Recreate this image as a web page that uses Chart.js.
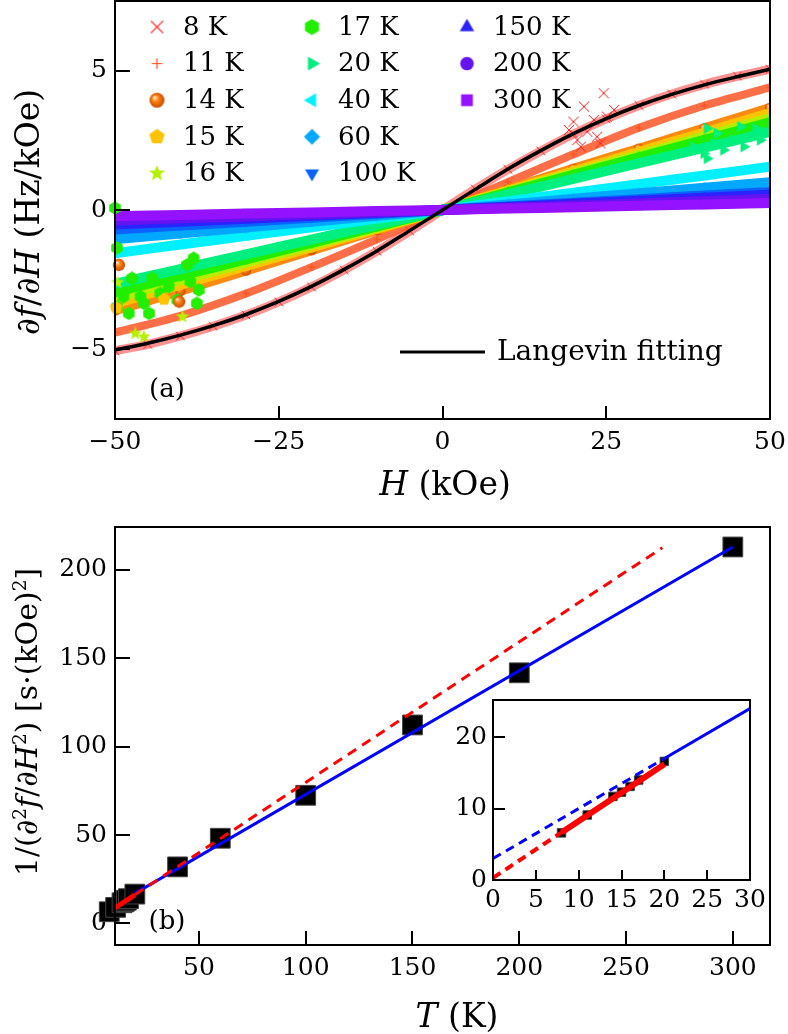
<!DOCTYPE html>
<html>
<head>
<meta charset="utf-8">
<script src="https://cdn.jsdelivr.net/npm/chart.js@4.4.1/dist/chart.umd.min.js"></script>
<style>
  body { margin: 0; background: #fff; }
  #page { position: relative; width: 788px; height: 1034px; font-family: "DejaVu Serif", serif; color: #000; }
  .box { position: absolute; }
  .lbl { position: absolute; white-space: nowrap; font-size: 33px; line-height: 1; }
  .lbl.small { font-size: 30px; }
  .tag { position: absolute; white-space: nowrap; font-size: 26px; line-height: 1; transform: translate(-50%, -50%); }
  .rot { transform: translate(-50%, -50%) rotate(-90deg); }
  .ctr { transform: translate(-50%, -50%); }
  sup { font-size: 0.62em; vertical-align: 0.6em; line-height: 0; }
</style>
</head>
<body>
<div id="page">
  <div class="box" style="left:0;top:0;width:788px;height:510px"><canvas id="chartA"></canvas></div>
  <div class="box" style="left:0;top:510px;width:788px;height:524px"><canvas id="chartB"></canvas></div>
  <div class="box" style="left:430px;top:690px;width:340px;height:230px"><canvas id="chartC"></canvas></div>

  <div class="lbl rot" style="left:27px;top:212px">∂<i>f</i>/∂<i>H</i> (Hz/kOe)</div>
  <div class="lbl ctr" style="left:445px;top:483px"><i>H</i>&nbsp;(kOe)</div>
  <div class="tag" style="left:167px;top:388px">(a)</div>

  <div class="lbl small rot" style="left:27px;top:722px">1/(∂<sup>2</sup><i>f</i>/∂<i>H</i><sup>2</sup>) [s·(kOe)<sup>2</sup>]</div>
  <div class="lbl ctr" style="left:457px;top:1015px"><i>T</i>&nbsp;(K)</div>
  <div class="tag" style="left:167px;top:920px">(b)</div>
</div>

<script>
// ---------- panel (a) data: df/dH (Hz/kOe) vs H (kOe) ----------
const fieldH = [-50, -40, -30, -20, -10, 0, 10, 20, 30, 40, 50];
const fieldH8 = [-50, -45, -40, -35, -30, -25, -20, -15, -10, -5, 0, 5, 10, 15, 20, 25, 30, 35, 40, 45, 50];

const df8K   = [-5.05, -4.82, -4.52, -4.17, -3.77, -3.30, -2.76, -2.15, -1.48, -0.76, 0, 0.75, 1.46, 2.12, 2.73, 3.27, 3.75, 4.16, 4.51, 4.80, 5.05];
const fitLangevin = [-5.02, -4.78, -4.49, -4.15, -3.75, -3.28, -2.74, -2.13, -1.47, -0.74, 0, 0.74, 1.47, 2.13, 2.74, 3.28, 3.75, 4.15, 4.49, 4.78, 5.05];

const df11K  = [-4.40, -3.80, -3.00, -2.05, -1.05, 0, 1.00, 2.00, 2.95, 3.75, 4.40];
const df14K  = [-3.60, -2.90, -2.17, -1.44, -0.72, 0, 0.74, 1.48, 2.20, 2.93, 3.66];
const df15K  = [-3.35, -2.68, -2.01, -1.34, -0.67, 0, 0.70, 1.39, 2.09, 2.78, 3.48];
const df16K  = [-3.15, -2.52, -1.89, -1.26, -0.63, 0, 0.66, 1.32, 1.98, 2.64, 3.30];
const df17K  = [-2.95, -2.36, -1.77, -1.18, -0.59, 0, 0.63, 1.26, 1.89, 2.52, 3.15];
const df20K  = [-2.65, -2.12, -1.59, -1.06, -0.53, 0, 0.56, 1.12, 1.68, 2.24, 2.80];
const df40K  = [-1.55, -1.24, -0.93, -0.62, -0.31, 0, 0.31, 0.62, 0.93, 1.24, 1.55];
const df60K  = [-1.05, -0.84, -0.63, -0.42, -0.21, 0, 0.20, 0.40, 0.60, 0.80, 1.00];
const df100K = [-0.70, -0.56, -0.42, -0.28, -0.14, 0, 0.13, 0.26, 0.39, 0.52, 0.65];
const df150K = [-0.52, -0.42, -0.31, -0.21, -0.10, 0, 0.11, 0.22, 0.33, 0.44, 0.55];
const df200K = [-0.38, -0.30, -0.23, -0.15, -0.08, 0, 0.08, 0.16, 0.24, 0.32, 0.40];
const df300K = [-0.22, -0.18, -0.13, -0.09, -0.04, 0, 0.05, 0.10, 0.15, 0.20, 0.25];

// scattered points off the bands, [H, df/dH]
const extra8K  = [[24.6, 4.19], [21.6, 3.71], [26.2, 3.59], [20.0, 3.17], [23.1, 3.23], [25.1, 3.35], [22.1, 2.81], [23.6, 2.63], [20.6, 2.51], [24.1, 2.39], [21.1, 2.27], [19.3, 2.87]];
const extra14K = [[-49.4, -1.97], [-40.2, -3.29]];
const extra15K = [[-49.8, -3.5], [-42.5, -3.2]];
const extra16K = [[-46.9, -4.43], [-45.6, -4.55], [-39.7, -3.83], [-49.6, -2.6]];
const extra17K = [[-38.0, -1.73], [-39.0, -1.97], [-47.4, -2.45], [-44.3, -2.45], [-41.8, -2.75], [-38.5, -2.57], [-37.2, -2.87], [-37.5, -3.35], [-44.8, -3.71], [-47.9, -3.71], [-48.7, -3.11], [-46.1, -3.11], [-43.1, -2.99], [-40.5, -3.23], [-45.6, -3.35], [-49.7, -3.47], [-50.0, 0.07], [-49.7, -1.36]];
const extra20K = [[38.3, 2.27], [39.9, 2.03], [40.4, 1.85], [41.4, 2.39], [42.9, 2.15], [44.5, 2.51], [46.0, 2.27], [47.5, 2.63], [48.5, 2.51], [45.5, 2.99], [41.9, 2.75], [40.4, 2.93], [47.8, 2.93], [49.3, 2.81]];

const ticksHA  = [-50, -37.5, -25, -12.5, 0, 12.5, 25, 37.5, 50];
const labelsHA = ['\u221250', null, '\u221225', null, '0', null, '25', null, '50'];
const ticksDA  = [-7.5, -5, -2.5, 0, 2.5, 5, 7.5];
const labelsDA = [null, '\u22125', null, '0', null, '5', null];

// ---------- panel (b) data: 1/(d2f/dH2) vs T ----------
const tempT  = [8, 11, 14, 15, 16, 17, 20, 40, 60, 100, 150, 200, 300];
const invCurv = [6.6, 9.1, 11.7, 12.3, 13.1, 14.0, 16.6, 32.0, 48.2, 72.5, 112.3, 141.8, 213.0];
const redFitT = [0, 8, 20, 267];
const redFitV = [0.3, 6.66, 16.2, 212.6];
const blueFitT = [0, 20, 300];
const blueFitV = [3.0, 17.0, 213.0];

const ticksTB  = [25, 50, 75, 100, 125, 150, 175, 200, 225, 250, 275, 300];
const labelsTB = [null, '50', null, '100', null, '150', null, '200', null, '250', null, '300'];
const ticksVB  = [0, 25, 50, 75, 100, 125, 150, 175, 200];
const labelsVB = ['0', null, '50', null, '100', null, '150', null, '200'];
const ticksTC  = [0, 2.5, 5, 7.5, 10, 12.5, 15, 17.5, 20, 22.5, 25, 27.5, 30];
const labelsTC = ['0', null, '5', null, '10', null, '15', null, '20', null, '25', null, '30'];
const ticksVC  = [0, 5, 10, 15, 20];
const labelsVC = ['0', null, '10', null, '20'];

// ---------- markers ----------
function makeMarker(kind, color, size) {
  const c = document.createElement('canvas');
  c.width = size; c.height = size;
  const g = c.getContext('2d');
  const r = size / 2;
  g.translate(r, r);
  g.fillStyle = color; g.strokeStyle = color;
  const poly = (n, rad, start) => {
    g.beginPath();
    for (let k = 0; k < n; k++) {
      const a = start + k * 2 * Math.PI / n;
      g.lineTo(rad * Math.cos(a), rad * Math.sin(a));
    }
    g.closePath(); g.fill();
  };
  if (kind === 'x') {
    const d = r * 0.72; g.lineWidth = Math.max(1, size / 14);
    g.beginPath(); g.moveTo(-d, -d); g.lineTo(d, d); g.moveTo(d, -d); g.lineTo(-d, d); g.stroke();
  } else if (kind === 'plus') {
    const d = r * 0.62; g.lineWidth = Math.max(1, size / 14);
    g.beginPath(); g.moveTo(-d, 0); g.lineTo(d, 0); g.moveTo(0, -d); g.lineTo(0, d); g.stroke();
  } else if (kind === 'ball') {
    const grad = g.createRadialGradient(-r * 0.3, -r * 0.35, r * 0.05, 0, 0, r * 0.9);
    grad.addColorStop(0, '#ffe6c8'); grad.addColorStop(0.4, color); grad.addColorStop(1, '#c24a00');
    g.fillStyle = grad; g.beginPath(); g.arc(0, 0, r * 0.88, 0, 2 * Math.PI); g.fill();
  } else if (kind === 'pentagon') poly(5, r * 0.95, -Math.PI / 2);
  else if (kind === 'hexagon') poly(6, r * 0.95, -Math.PI / 2);
  else if (kind === 'star') {
    g.beginPath();
    for (let k = 0; k < 10; k++) {
      const rad = k % 2 ? r * 0.42 : r, a = -Math.PI / 2 + k * Math.PI / 5;
      g.lineTo(rad * Math.cos(a), rad * Math.sin(a));
    }
    g.closePath(); g.fill();
  } else if (kind === 'triR') poly(3, r * 0.95, 0);
  else if (kind === 'triL') poly(3, r * 0.95, Math.PI);
  else if (kind === 'triU') poly(3, r * 0.98, -Math.PI / 2);
  else if (kind === 'triD') poly(3, r * 0.95, Math.PI / 2);
  else if (kind === 'diamond') poly(4, r * 0.95, 0);
  else if (kind === 'circle') { g.beginPath(); g.arc(0, 0, r * 0.8, 0, 2 * Math.PI); g.fill(); }
  else if (kind === 'square') poly(4, r * 0.98, Math.PI / 4);
  return c;
}

const seriesA = [
  { label: '8 K',   h: fieldH8, v: df8K,   extra: extra8K,  kind: 'x',        color: '#ff1a1a', band: 'rgba(255,40,40,0.5)', w: 9 },
  { label: '11 K',  h: fieldH,  v: df11K,  extra: [],       kind: 'plus',     color: '#ff4a12', band: 'rgba(255,75,25,0.8)', w: 8 },
  { label: '14 K',  h: fieldH,  v: df14K,  extra: extra14K, kind: 'ball',     color: '#ff8010', band: '#ff8a12', w: 10 },
  { label: '15 K',  h: fieldH,  v: df15K,  extra: extra15K, kind: 'pentagon', color: '#ffc400', band: '#ffc400', w: 10 },
  { label: '16 K',  h: fieldH,  v: df16K,  extra: extra16K, kind: 'star',     color: '#b4f000', band: '#b4ee00', w: 10 },
  { label: '17 K',  h: fieldH,  v: df17K,  extra: extra17K, kind: 'hexagon',  color: '#22ee00', band: '#22ee00', w: 10 },
  { label: '20 K',  h: fieldH,  v: df20K,  extra: extra20K, kind: 'triR',     color: '#00f080', band: '#00f080', w: 10 },
  { label: '40 K',  h: fieldH,  v: df40K,  extra: [],       kind: 'triL',     color: '#00f0ff', band: '#00f0ff', w: 10 },
  { label: '60 K',  h: fieldH,  v: df60K,  extra: [],       kind: 'diamond',  color: '#00a8ff', band: '#00a8ff', w: 10 },
  { label: '100 K', h: fieldH,  v: df100K, extra: [],       kind: 'triD',     color: '#0a62ff', band: '#0a62ff', w: 10 },
  { label: '150 K', h: fieldH,  v: df150K, extra: [],       kind: 'triU',     color: '#2a22ff', band: '#2a22ff', w: 10 },
  { label: '200 K', h: fieldH,  v: df200K, extra: [],       kind: 'circle',   color: '#6414f0', band: '#6414f0', w: 10 },
  { label: '300 K', h: fieldH,  v: df300K, extra: [],       kind: 'square',   color: '#9412ff', band: '#9412ff', w: 10 }
];

const FONT = '"DejaVu Serif", serif';
Chart.defaults.font.family = FONT;
Chart.defaults.font.size = 25;
Chart.defaults.color = '#000';

// inward tick marks + frame, drawn from the chart's own scales
const framePlugin = {
  id: 'frame',
  beforeDatasetsDraw(chart, args, opts) {
    if (!opts.fill) return;
    const a = chart.chartArea, ctx = chart.ctx;
    ctx.save(); ctx.fillStyle = '#fff';
    ctx.fillRect(a.left, a.top, a.right - a.left, a.bottom - a.top);
    ctx.restore();
  },
  afterDatasetsDraw(chart, args, opts) {
    const { ctx, chartArea: a, scales } = chart;
    ctx.save();
    ctx.strokeStyle = '#000';
    ctx.lineWidth = 2;
    ctx.beginPath();
    scales.x.ticks.forEach(t => {
      const px = Math.round(scales.x.getPixelForValue(t.value));
      const len = t.label ? opts.xt[0] : opts.xt[1];
      ctx.moveTo(px, a.bottom); ctx.lineTo(px, a.bottom - len);
    });
    scales.y.ticks.forEach(t => {
      const py = Math.round(scales.y.getPixelForValue(t.value));
      const len = t.label ? opts.yt[0] : opts.yt[1];
      ctx.moveTo(a.left, py); ctx.lineTo(a.left + len, py);
    });
    ctx.stroke();
    ctx.strokeRect(a.left, a.top, a.right - a.left, a.bottom - a.top);
    ctx.restore();
  }
};

const legendMarkers = seriesA.map(s => makeMarker(s.kind, s.color, 17));
const legendA = {
  id: 'legendA',
  afterDraw(chart) {
    const ctx = chart.ctx;
    ctx.save();
    ctx.font = '26px ' + FONT;
    ctx.fillStyle = '#000';
    ctx.textBaseline = 'middle';
    const colX = [157, 312, 467];
    seriesA.forEach((s, i) => {
      const x = colX[Math.floor(i / 5)], y = 27 + (i % 5) * 36.6;
      const img = legendMarkers[i];
      ctx.drawImage(img, x - img.width / 2, y - img.height / 2);
      ctx.fillText(s.label, x + 26, y + 1);
    });
    ctx.strokeStyle = '#000'; ctx.lineWidth = 3;
    ctx.beginPath(); ctx.moveTo(400, 352); ctx.lineTo(485, 352); ctx.stroke();
    ctx.font = '28px ' + FONT;
    ctx.fillText('Langevin fitting', 497, 353);
    ctx.restore();
  }
};

function axis(min, max, ticks, labels, fitSize, isX, padding) {
  return {
    type: 'linear', min, max,
    grid: { display: false, drawTicks: false },
    border: { display: false },
    afterBuildTicks: s => { s.ticks = ticks.map(v => ({ value: v })); },
    afterFit: s => {
      if (isX) s.height = fitSize; else s.width = fitSize;
      s.paddingTop = 0; s.paddingBottom = 0; s.paddingLeft = 0; s.paddingRight = 0;
    },
    ticks: { autoSkip: false, maxRotation: 0, padding, color: '#000', callback: (v, i) => labels[i] }
  };
}

// ---------- panel (a) ----------
const dsA = [{
  data: fieldH8.map((x, k) => ({ x, y: fitLangevin[k] })),
  borderColor: '#000', borderWidth: 3.5, pointRadius: 0,
  cubicInterpolationMode: 'monotone', order: 0
}];
seriesA.forEach((s, i) => {
  const mark = makeMarker(s.kind, s.color, 12);
  dsA.push({
    data: s.h.map((x, k) => ({ x, y: s.v[k] })),
    borderColor: s.band, borderWidth: s.w, pointStyle: mark,
    cubicInterpolationMode: 'monotone', order: 30 - i
  });
  if (s.extra.length) {
    dsA.push({
      data: s.extra.map(p => ({ x: p[0], y: p[1] })),
      showLine: false, pointStyle: makeMarker(s.kind, s.color, 14),
      clip: false, order: 1 + i * 0.01
    });
  }
});

new Chart(document.getElementById('chartA'), {
  type: 'line',
  data: { datasets: dsA },
  options: {
    responsive: true, maintainAspectRatio: false, animation: false, devicePixelRatio: 1,
    layout: { autoPadding: false, padding: { top: 1, right: 18, left: 0, bottom: 0 } },
    plugins: { legend: { display: false }, tooltip: { enabled: false }, frame: { xt: [13, 7], yt: [15, 8] } },
    scales: {
      x: axis(-50, 50, ticksHA, labelsHA, 91, true, 8),
      y: axis(-7.5, 7.5, ticksDA, labelsDA, 115, false, 8)
    }
  },
  plugins: [framePlugin, legendA]
});

// ---------- panel (b) and inset ----------
const NONE = 'rgba(0,0,0,0)';
function fitSets(main) {
  const inSolid = c => c.p0.parsed.x >= 8 && c.p1.parsed.x <= 20;
  return [
    {
      data: redFitT.map((x, k) => ({ x, y: redFitV[k] })),
      borderColor: '#ff0000', pointRadius: 0, order: 0,
      borderWidth: main ? 3 : 4,
      segment: {
        borderDash: c => inSolid(c) ? [] : (main ? [10, 7] : [9, 6]),
        borderWidth: c => inSolid(c) ? (main ? 5 : 6) : (main ? 3 : 4),
        borderColor: c => (!main && c.p0.parsed.x >= 20) ? NONE : '#ff0000'
      }
    },
    {
      data: blueFitT.map((x, k) => ({ x, y: blueFitV[k] })),
      borderColor: '#0000ff', borderWidth: 3, pointRadius: 0, order: 1,
      segment: {
        borderDash: c => c.p1.parsed.x <= 20 ? [9, 6] : [],
        borderColor: c => (main && c.p1.parsed.x <= 20) ? NONE : '#0000ff'
      }
    },
    {
      data: tempT.map((x, k) => ({ x, y: invCurv[k] })),
      showLine: false, pointStyle: 'rect', pointRadius: main ? 14 : 6,
      backgroundColor: '#000', borderColor: '#444', borderWidth: 1, clip: false, order: 2
    }
  ];
}

new Chart(document.getElementById('chartB'), {
  type: 'line',
  data: { datasets: fitSets(true) },
  options: {
    responsive: true, maintainAspectRatio: false, animation: false, devicePixelRatio: 1,
    layout: { autoPadding: false, padding: { top: 17, right: 18, left: 0, bottom: 0 } },
    plugins: { legend: { display: false }, tooltip: { enabled: false }, frame: { xt: [14, 7], yt: [15, 8] } },
    scales: {
      x: axis(10.7, 317.4, ticksTB, labelsTB, 89, true, 8),
      y: axis(-12.2, 224.3, ticksVB, labelsVB, 115, false, 8)
    }
  },
  plugins: [framePlugin]
});

new Chart(document.getElementById('chartC'), {
  type: 'line',
  data: { datasets: fitSets(false) },
  options: {
    responsive: true, maintainAspectRatio: false, animation: false, devicePixelRatio: 1,
    layout: { autoPadding: false, padding: { top: 10, right: 20, left: 0, bottom: 0 } },
    plugins: { legend: { display: false }, tooltip: { enabled: false }, frame: { xt: [10, 5], yt: [12, 6], fill: true } },
    scales: {
      x: axis(0, 30, ticksTC, labelsTC, 40, true, 5),
      y: axis(0, 25.2, ticksVC, labelsVC, 63, false, 6)
    }
  },
  plugins: [framePlugin]
});
</script>
</body>
</html>
